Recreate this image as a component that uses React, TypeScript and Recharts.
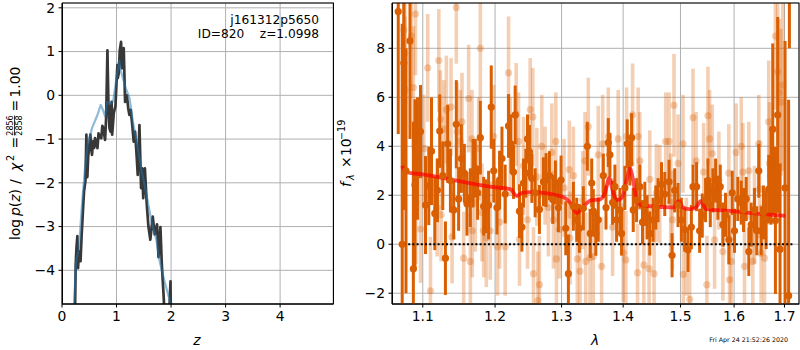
import React from "react";
import {
  ComposedChart,
  LineChart,
  Line,
  Scatter,
  XAxis,
  YAxis,
  CartesianGrid,
  ErrorBar,
} from "recharts";

const FONT = "'DejaVu Sans', sans-serif";
const ORANGE = "#d95f02";

// ---- left panel: p(z) ----
const zTicks = [0, 1, 2, 3, 4];
const logpTicks = [-4, -3, -2, -1, 0, 1, 2];

// [z, log p(z)] chi2-based (dark, jagged)
const pzChi2: [number, number][] = [
  [0.2, -6], [0.239, -4.9], [0.251, -3.87], [0.265, -3.5], [0.282, -3.22], [0.294, -3.95],
  [0.31, -3.6], [0.325, -3.57], [0.34, -3.79], [0.36, -3.2], [0.374, -2.88], [0.39, -2.5],
  [0.404, -2.2], [0.43, -1.95], [0.447, -0.9], [0.465, -1.87], [0.48, -1.4], [0.496, -1.21],
  [0.52, -0.9], [0.535, -1.2], [0.55, -1.36], [0.57, -1.05], [0.59, -1.2], [0.606, -0.98],
  [0.63, -1.1], [0.65, -1.21], [0.67, -0.87], [0.69, -0.95], [0.72, -0.98], [0.74, -0.7],
  [0.76, -0.75], [0.775, -0.9], [0.79, -1.02], [0.81, -0.5], [0.833, 1.03], [0.85, -0.1],
  [0.87, -0.75], [0.89, -0.83], [0.9, -0.3], [0.91, -0.15], [0.92, -0.9], [0.95, -0.4],
  [0.98, -0.25], [1.0, 0.3], [1.016, 0.69], [1.022, 0.39], [1.04, 0.5], [1.06, 1.03],
  [1.083, 1.22], [1.1, 0.62], [1.115, 0.9], [1.132, 1.08], [1.157, -0.15], [1.19, 0.0],
  [1.215, -0.3], [1.236, -0.45], [1.26, -0.33], [1.29, -0.7], [1.315, -1.06], [1.34, -0.83],
  [1.37, -1.4], [1.389, -1.82], [1.42, -0.68], [1.45, -2.12], [1.47, -1.67], [1.49, -2.35],
  [1.52, -1.67], [1.555, -2.5], [1.585, -3.0], [1.62, -3.3], [1.664, -2.77], [1.7, -3.18],
  [1.743, -2.95], [1.77, -3.7], [1.805, -3.01], [1.83, -3.85], [1.86, -4.5], [1.88, -5.0],
  [1.93, -5.5], [1.97, -4.9], [1.99, -4.25], [2.0, -5.5], [2.01, -7],
];

// [z, log p(z)] template fit (light blue, smooth)
const pzFit: [number, number][] = [
  [0.2, -6], [0.22, -4.8], [0.26, -3.79], [0.31, -3.5], [0.37, -2.45], [0.42, -1.7],
  [0.47, -1.14], [0.55, -0.75], [0.65, -0.45], [0.71, -0.22], [0.75, -0.33], [0.79, -0.48],
  [0.83, -0.15], [0.89, -0.2], [0.94, -0.12], [1.0, 0.4], [1.05, 0.8], [1.083, 0.54],
  [1.17, 0.16], [1.24, -0.07], [1.3, -0.6], [1.39, -1.2], [1.45, -1.67], [1.55, -2.28],
  [1.64, -2.88], [1.73, -3.3], [1.79, -3.79], [1.88, -4.25], [2.0, -4.8], [2.02, -5.2],
];

// ---- right panel: spectrum ----
const lamTicks = [1.1, 1.2, 1.3, 1.4, 1.5, 1.6, 1.7];
const fluxTicks = [-2, 0, 2, 4, 6, 8];

// [lambda, flux, error] dark orange
const specDark: [number, number, number][] = [
  [1.068, 9.5, 5.0], [1.0731, 0.0, 9.0], [1.0752, 7.4, 6.0], [1.078, 3.0, 5.0], [1.0832, 8.3, 4.0],
  [1.0876, -1.0, 6.0], [1.0897, 2.42, 3.5], [1.093, 3.5, 2.5], [1.097, 4.6, 1.9], [1.1036, 1.6, 2.0],
  [1.108, 2.38, 1.6], [1.1116, 3.8, 2.2], [1.116, 1.26, 1.5], [1.1196, 2.2, 1.3], [1.1227, 4.62, 1.5],
  [1.1268, 2.8, 1.4], [1.1304, -0.57, 1.5], [1.1335, 4.1, 1.6], [1.1372, 2.6, 1.3], [1.1417, 1.4, 1.2],
  [1.1453, 4.9, 1.8], [1.1485, 1.85, 1.3], [1.1523, 3.5, 1.4], [1.1564, 2.9, 1.2], [1.1601, 1.65, 1.3],
  [1.1648, 1.9, 1.2], [1.1686, 2.9, 1.4], [1.1718, 3.1, 1.2], [1.1751, 2.1, 1.1], [1.1789, 4.35, 1.5],
  [1.1836, 1.55, 1.2], [1.187, 1.55, 1.1], [1.1907, 1.6, 1.4], [1.1945, 5.6, 1.7], [1.1981, 3.0, 1.3],
  [1.2027, 1.5, 1.1], [1.2065, 2.62, 1.2], [1.21, 3.5, 1.3], [1.2147, 2.05, 1.2], [1.2196, 4.83, 1.3],
  [1.2231, 4.1, 1.2], [1.2269, 2.95, 1.1], [1.2294, 5.28, 1.2], [1.2358, 1.35, 1.1], [1.2394, 0.7, 1.0],
  [1.2418, 2.5, 1.0], [1.2453, 2.9, 1.0], [1.2478, 4.3, 1.0], [1.2507, 3.77, 1.1], [1.2543, 2.69, 1.0],
  [1.2593, 2.1, 1.0], [1.2658, 1.42, 1.0], [1.2719, 2.55, 1.0], [1.276, 2.62, 1.1], [1.2811, 2.8, 1.0],
  [1.2863, 1.83, 1.0], [1.2904, 2.52, 0.9], [1.295, 1.5, 1.0], [1.2992, 2.62, 1.0], [1.3066, 0.65, 1.1],
  [1.3107, -1.2, 1.6], [1.3186, 1.55, 1.0], [1.3239, 1.0, 0.9], [1.3281, 0.65, 1.0], [1.3345, 1.47, 0.9],
  [1.3409, 4.0, 1.0], [1.3457, 0.44, 1.0], [1.348, 2.5, 1.0], [1.3506, 1.35, 0.9], [1.3547, 0.43, 0.9],
  [1.3587, 1.0, 0.9], [1.367, 2.8, 0.9], [1.3714, 1.5, 0.9], [1.3752, 4.15, 1.0], [1.3779, 3.65, 0.9],
  [1.3823, 1.7, 0.9], [1.3862, 2.35, 0.9], [1.389, 1.0, 0.9], [1.3945, 1.4, 0.9], [1.3973, 0.44, 0.9],
  [1.4029, 2.3, 0.9], [1.4069, 4.1, 1.0], [1.4114, 3.3, 0.9], [1.4143, 4.35, 1.0], [1.4171, 1.4, 0.9],
  [1.4228, 1.8, 0.9], [1.4284, 2.35, 0.9], [1.433, 0.9, 0.9], [1.437, 1.65, 0.9], [1.441, 1.1, 0.9],
  [1.4456, 0.44, 0.9], [1.4514, 1.0, 0.9], [1.4561, 1.5, 0.9], [1.4601, 1.8, 0.9], [1.4661, 2.45, 0.9],
  [1.4719, 2.05, 0.9], [1.4795, 2.55, 0.9], [1.4849, -0.45, 0.9], [1.4896, 2.2, 0.9], [1.4956, 1.6, 0.9],
  [1.5016, 1.0, 0.9], [1.5076, 0.6, 0.9], [1.5137, -0.23, 0.9], [1.5198, 0.7, 0.9], [1.5228, 2.35, 0.9],
  [1.5294, 2.35, 1.0], [1.535, 0.55, 0.9], [1.5399, 1.17, 0.9], [1.546, 1.8, 0.9], [1.5504, 2.6, 0.9],
  [1.5548, 1.6, 0.9], [1.5597, 2.2, 0.9], [1.5648, 2.6, 0.9], [1.5691, 1.9, 0.9], [1.5736, 2.35, 0.9],
  [1.5786, 0.8, 0.9], [1.5836, 1.2, 0.9], [1.5899, 0.18, 1.0], [1.5964, 2.1, 0.9], [1.6008, 0.55, 0.9],
  [1.6072, 1.85, 0.9], [1.6138, 1.7, 0.9], [1.6183, 1.4, 0.9], [1.6235, 1.85, 0.9], [1.6286, -0.3, 1.0],
  [1.6333, 0.8, 0.9], [1.6397, 1.4, 0.9], [1.6443, 0.55, 1.0], [1.6483, 3.0, 1.1], [1.653, 0.55, 1.0],
  [1.6575, 1.3, 1.1], [1.6629, 1.0, 1.2], [1.6681, 2.25, 1.4], [1.6729, 2.8, 2.0], [1.6762, 4.7, 3.5],
  [1.6816, 0.97, 3.0], [1.6862, 5.28, 4.0], [1.691, -0.2, 3.5], [1.7012, 2.3, 6.0], [1.7085, -2.1, 8.0],
  [1.7101, 14.0, 6.0],
];

// [lambda, flux, error] light orange
const specLight: [number, number, number][] = [
  [1.0752, 8.75, 3.0], [1.0765, 7.8, 3.0], [1.0768, 6.3, 3.0], [1.085, 8.5, 2.5], [1.0876, 6.4, 2.5],
  [1.0904, 9.4, 2.5], [1.0908, 1.7, 2.5], [1.097, 0.62, 2.2], [1.1013, 3.9, 2.2], [1.1066, 7.2, 2.2],
  [1.1102, -1.9, 2.2], [1.1192, 1.5, 2.0], [1.1214, 7.5, 2.1], [1.1236, 5.1, 2.0], [1.1245, 1.2, 1.9],
  [1.1281, 4.7, 2.0], [1.1317, 5.5, 2.2], [1.1381, 5.6, 2.0], [1.1395, 0.3, 1.9], [1.1453, 9.67, 2.3],
  [1.1463, 4.6, 2.0], [1.1509, 4.2, 2.1], [1.1532, 5.0, 2.0], [1.1555, -0.57, 1.9], [1.1624, 5.95, 2.2],
  [1.1648, -0.7, 2.0], [1.1671, 4.3, 2.0], [1.1676, 0.55, 1.9], [1.1718, 1.7, 2.0], [1.1765, 3.9, 2.1],
  [1.1789, 8.0, 2.2], [1.1813, 1.3, 2.0], [1.1836, 0.55, 1.9], [1.1874, 0.25, 2.0], [1.1931, 0.55, 2.0],
  [1.1978, 4.4, 2.1], [1.2036, -0.1, 2.0], [1.2065, 0.9, 1.9], [1.2147, -0.1, 2.0], [1.2196, 7.0, 2.3],
  [1.2221, 4.0, 2.0], [1.2309, 5.3, 2.1], [1.2343, 4.2, 2.0], [1.2358, 0.2, 1.9], [1.2418, 3.2, 2.0],
  [1.2478, 1.0, 2.0], [1.2518, 5.5, 2.1], [1.2558, 5.2, 2.0], [1.2568, -1.2, 1.9], [1.2619, 2.75, 2.0],
  [1.2634, -2.3, 2.0], [1.2658, -1.65, 2.0], [1.2694, 4.0, 2.1], [1.2745, 2.8, 2.0], [1.2796, 1.5, 2.0],
  [1.2848, 3.75, 2.0], [1.2873, 1.0, 2.0], [1.291, 4.2, 2.0], [1.292, -0.6, 2.0], [1.2966, 0.6, 2.0],
  [1.3039, 2.3, 2.0], [1.3122, 3.05, 2.0], [1.3133, 0.25, 1.9], [1.3186, 2.8, 2.0], [1.3249, -0.6, 2.0],
  [1.3292, -1.1, 2.0], [1.3335, 1.8, 2.0], [1.3372, 3.4, 2.0], [1.3383, -0.7, 2.0], [1.3425, 4.8, 2.0],
  [1.3452, -0.55, 2.0], [1.3506, -0.5, 2.0], [1.3587, 3.65, 2.0], [1.3642, -0.9, 2.0], [1.3659, 4.1, 2.0],
  [1.3752, 4.4, 2.0], [1.3823, 0.7, 2.0], [1.3917, 4.3, 2.0], [1.4001, -0.35, 2.0], [1.4046, -0.64, 2.0],
  [1.4058, 4.4, 2.0], [1.416, 5.28, 2.1], [1.4245, -1.16, 2.0], [1.4255, 4.4, 2.0], [1.4284, 3.4, 2.0],
  [1.4353, -0.85, 2.0], [1.4444, -1.0, 2.0], [1.4456, 2.65, 2.0], [1.4531, -1.2, 2.0], [1.4572, 2.1, 2.0],
  [1.4631, 2.05, 2.0], [1.4736, 4.2, 2.0], [1.4795, 4.2, 2.0], [1.4825, 1.7, 2.0], [1.4855, 1.0, 2.0],
  [1.4884, 5.67, 2.1], [1.4956, 3.3, 2.0], [1.5046, 4.1, 2.0], [1.5052, -1.23, 2.0], [1.5106, -0.1, 2.0],
  [1.5167, -2.25, 2.0], [1.5228, 5.17, 2.0], [1.5285, 3.4, 2.0], [1.5424, 2.95, 2.0], [1.5485, -1.65, 2.0],
  [1.5504, 5.25, 2.0], [1.5535, 4.3, 2.0], [1.5585, 3.7, 2.0], [1.5629, 0.18, 2.0], [1.571, 2.6, 2.0],
  [1.5786, -0.3, 2.0], [1.5899, 2.9, 2.0], [1.5913, -1.45, 2.0], [1.5945, -0.7, 2.0], [1.604, 3.75, 2.0],
  [1.6138, 4.0, 2.0], [1.617, 2.95, 2.0], [1.6202, -0.9, 2.0], [1.6286, 3.0, 2.0], [1.6364, -0.7, 2.0],
  [1.6397, 1.2, 2.0], [1.6483, 4.1, 2.0], [1.6496, 2.25, 2.0], [1.653, -0.37, 2.0], [1.6595, -0.57, 2.0],
  [1.6681, 5.0, 2.5], [1.6695, 3.3, 2.5], [1.6816, 8.5, 3.0], [1.6862, 7.05, 3.0], [1.6897, 6.2, 3.0],
  [1.693, 5.8, 3.0], [1.6964, 6.5, 3.5],
];

// [lambda, flux] best-fit template
const model: [number, number][] = [
  [1.0731, 3.2], [1.0774, 2.95], [1.1, 2.85], [1.1978, 2.33], [1.2221, 2.25], [1.2319, 1.97],
  [1.2393, 2.1], [1.2518, 2.13], [1.3003, 1.95], [1.3133, 1.7], [1.3239, 1.27], [1.3345, 1.55],
  [1.3479, 1.8], [1.3615, 1.83], [1.3697, 2.1], [1.3768, 2.7], [1.3835, 2.1], [1.3901, 1.8],
  [1.3974, 1.88], [1.4058, 2.6], [1.4114, 3.1], [1.4171, 2.6], [1.4228, 1.8], [1.4313, 1.6],
  [1.469, 1.52], [1.4868, 1.5], [1.4969, 1.76], [1.5047, 1.5], [1.5168, 1.43], [1.529, 1.52],
  [1.5369, 1.76], [1.5474, 1.43], [1.5913, 1.36], [1.6563, 1.23], [1.702, 1.16],
];

const zeroLine: [number, number][] = [[1.07, 0], [1.72, 0]];

const fmtMinus = (v: number) => String(v).replace("-", "\u2212");
const tickStyle = { fill: "#000", fontSize: 13.9, fontFamily: FONT };

const pzChi2Data = pzChi2.map(([x, y]) => ({ x, y }));
const pzFitData = pzFit.map(([x, y]) => ({ x, y }));
const darkData = specDark.map(([x, y, e]) => ({ x, y, e }));
const lightData = specLight.map(([x, y, e]) => ({ x, y, e }));
const modelData = model.map(([x, y]) => ({ x, y }));
const zeroData = zeroLine.map(([x, y]) => ({ x, y }));

const DarkDot = (p: any) => <circle cx={p.cx} cy={p.cy} r={3.6} fill={ORANGE} />;
const LightDot = (p: any) => <circle cx={p.cx} cy={p.cy} r={3.6} fill={ORANGE} fillOpacity={0.3} />;

const LAM_DOMAIN: [number, number] = [1.06, 1.73];
const FLUX_DOMAIN: [number, number] = [-2.44, 9.85];

export default function App() {
  return (
    <div style={{ position: "absolute", left: 0, top: 0, width: 800, height: 350, background: "#fff", fontFamily: FONT }}>
      {/* left panel */}
      <div style={{ position: "absolute", left: 0, top: 0 }}>
        <LineChart width={340} height={350} margin={{ top: 3, right: 7, bottom: 16, left: 0 }}>
          <CartesianGrid stroke="#b0b0b0" strokeWidth={1} />
          <XAxis
            type="number"
            dataKey="x"
            domain={[0, 4.97]}
            ticks={zTicks}
            allowDataOverflow
            height={30}
            tick={tickStyle}
            tickSize={3.5}
            tickMargin={3.5}
            tickLine={{ stroke: "#000" }}
            axisLine={{ stroke: "#000" }}
            interval={0}
          />
          <YAxis
            type="number"
            dataKey="y"
            domain={[-4.77, 2.11]}
            ticks={logpTicks}
            allowDataOverflow
            width={62}
            tick={tickStyle}
            tickSize={3.5}
            tickMargin={3.5}
            tickLine={{ stroke: "#000" }}
            axisLine={{ stroke: "#000" }}
            tickFormatter={fmtMinus}
            interval={0}
          />
          <Line data={pzChi2Data} dataKey="y" type="linear" stroke="#383838" strokeWidth={2.7} dot={false} isAnimationActive={false} strokeLinejoin="round" />
          <Line data={pzFitData} dataKey="y" type="linear" stroke="#1f77b4" strokeOpacity={0.5} strokeWidth={2.2} dot={false} isAnimationActive={false} strokeLinejoin="round" />
        </LineChart>
      </div>

      {/* right panel: axes + grid */}
      <div style={{ position: "absolute", left: 340, top: 0 }}>
        <ComposedChart width={460} height={350} margin={{ top: 3, right: 1, bottom: 16, left: 0 }}>
          <CartesianGrid stroke="#b0b0b0" strokeWidth={1} />
          <XAxis
            type="number"
            dataKey="x"
            scale="log"
            domain={LAM_DOMAIN}
            ticks={lamTicks}
            allowDataOverflow
            height={30}
            tick={tickStyle}
            tickSize={3.5}
            tickMargin={3.5}
            tickLine={{ stroke: "#000" }}
            axisLine={{ stroke: "#000" }}
            tickFormatter={(v: number) => v.toFixed(1)}
            interval={0}
          />
          <YAxis
            type="number"
            dataKey="y"
            domain={FLUX_DOMAIN}
            ticks={fluxTicks}
            allowDataOverflow
            width={52}
            tick={tickStyle}
            tickSize={3.5}
            tickMargin={3.5}
            tickLine={{ stroke: "#000" }}
            axisLine={{ stroke: "#000" }}
            tickFormatter={fmtMinus}
            interval={0}
          />
          <Line data={zeroData} dataKey="y" stroke="none" dot={false} isAnimationActive={false} />
        </ComposedChart>
      </div>

      {/* right panel: data, clipped to plot area */}
      <div style={{ position: "absolute", left: 340, top: 0, width: 460, height: 350, clipPath: "inset(3px 1px 46px 52px)" }}>
        <ComposedChart width={460} height={350} margin={{ top: 3, right: 1, bottom: 46, left: 52 }}>
          <XAxis type="number" dataKey="x" scale="log" domain={LAM_DOMAIN} allowDataOverflow hide />
          <YAxis type="number" dataKey="y" domain={FLUX_DOMAIN} allowDataOverflow hide />
          <Scatter data={lightData} shape={LightDot} isAnimationActive={false}>
            <ErrorBar dataKey="e" direction="y" width={0} stroke={ORANGE} strokeOpacity={0.3} strokeWidth={3.6} isAnimationActive={false} />
          </Scatter>
          <Scatter data={darkData} shape={DarkDot} isAnimationActive={false}>
            <ErrorBar dataKey="e" direction="y" width={0} stroke={ORANGE} strokeWidth={3} isAnimationActive={false} />
          </Scatter>
          <Line data={modelData} dataKey="y" type="monotone" stroke="#ff0000" strokeOpacity={0.7} strokeWidth={3.8} dot={false} isAnimationActive={false} />
          <Line data={zeroData} dataKey="y" type="linear" stroke="#000" strokeWidth={2} strokeDasharray="2 2.2" dot={false} isAnimationActive={false} />
        </ComposedChart>
      </div>

      <svg width={800} height={350} style={{ position: "absolute", left: 0, top: 0, pointerEvents: "none" }} fontFamily={FONT}>
        <rect x={62.5} y={3} width={271} height={301} fill="none" stroke="#000" strokeWidth={1} />
        <rect x={392.5} y={3} width={406.5} height={301} fill="none" stroke="#000" strokeWidth={1} />
        <text x={319} y={24} textAnchor="end" fontSize={12.2} fill="#000">j161312p5650</text>
        <text x={319} y={38} textAnchor="end" fontSize={12.2} fill="#000" style={{ whiteSpace: "pre" }}>
          {"ID=820    z=1.0998"}
        </text>
        <text x={197} y={345} textAnchor="middle" fontSize={13.9} fontStyle="italic" fill="#000">z</text>
        <text x={595} y={345} textAnchor="middle" fontSize={13.9} fontStyle="italic" fill="#000">λ</text>
        <g transform="translate(20,240) rotate(-90)" fill="#000" fontSize={13.9}>
          <text x={0} y={0}>log</text>
          <text x={24} y={0}><tspan fontStyle="italic">p</tspan>(<tspan fontStyle="italic">z</tspan>)</text>
          <text x={56} y={0}>/</text>
          <text x={69} y={0} fontStyle="italic">χ</text>
          <text x={79} y={-6} fontSize={9.7}>2</text>
          <text x={91.5} y={0}>=</text>
          <text x={114.5} y={-7.5} fontSize={8} textAnchor="middle">2856</text>
          <line x1={104.5} x2={124.5} y1={-5.5} y2={-5.5} stroke="#000" strokeWidth={0.8} />
          <text x={114.5} y={1.5} fontSize={8} textAnchor="middle">2858</text>
          <text x={128.5} y={0}>=</text>
          <text x={142.5} y={0}>1.00</text>
        </g>
        <g transform="translate(351,187) rotate(-90)" fill="#000" fontSize={13.9}>
          <text x={0} y={0} fontStyle="italic">f</text>
          <text x={7} y={3} fontSize={9.7} fontStyle="italic">λ</text>
          <text x={19} y={0}>×</text>
          <text x={31} y={0}>10</text>
          <text x={47} y={-6} fontSize={9.7}>−19</text>
        </g>
        <text x={788} y={342} textAnchor="end" fontSize={6.3} fill="#000">Fri Apr 24 21:52:26 2020</text>
      </svg>
    </div>
  );
}
